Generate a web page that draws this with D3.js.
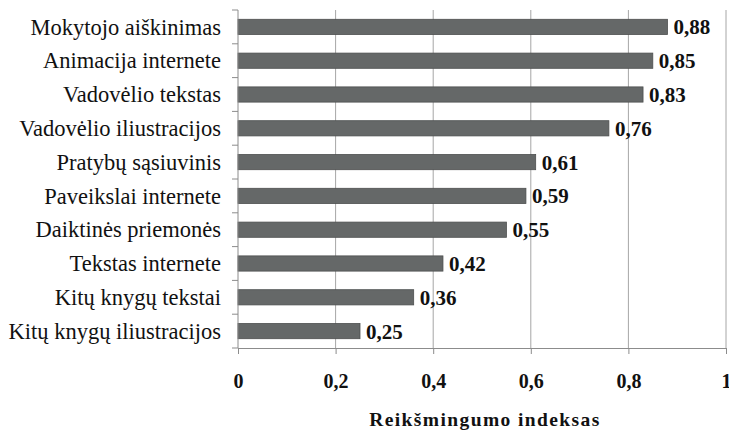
<!DOCTYPE html>
<html>
<head>
<meta charset="utf-8">
<script src="https://cdn.jsdelivr.net/npm/d3@7"></script>
<style>
  body { margin: 0; background: #fff; }
</style>
</head>
<body>
<svg id="chart" width="729" height="430"></svg>
<script>
const categories = [
  'Mokytojo aiškinimas',
  'Animacija internete',
  'Vadovėlio tekstas',
  'Vadovėlio iliustracijos',
  'Pratybų sąsiuvinis',
  'Paveikslai internete',
  'Daiktinės priemonės',
  'Tekstas internete',
  'Kitų knygų tekstai',
  'Kitų knygų iliustracijos'
];
const values = [0.88, 0.85, 0.83, 0.76, 0.61, 0.59, 0.55, 0.42, 0.36, 0.25];
const xTicks = [0, 0.2, 0.4, 0.6, 0.8, 1];
const axisTitle = 'Reikšmingumo indeksas';

const FONT = '"Liberation Serif", "Times New Roman", serif';

const svg = d3.select('#chart');
const margin = { top: 10, right: 3, bottom: 82, left: 238 };
const width = 729 - margin.left - margin.right;
const height = 430 - margin.top - margin.bottom;
const g = svg.append('g').attr('transform', `translate(${margin.left},${margin.top})`);

const fmt = v => d3.format('.2f')(v).replace('.', ',');
const fmtTick = v => (v === 0 || v === 1) ? String(v) : String(v).replace('.', ',');

const x = d3.scaleLinear().domain([0, 1]).range([0, width]);
const y = d3.scaleBand().domain(categories).range([0, height]).paddingInner(0.55).paddingOuter(0.275);
const yEdges = d3.scaleLinear().domain([0, categories.length]).range([0, height]);

// vertical gridlines
g.selectAll('.grid')
  .data(xTicks.filter(t => t > 0))
  .enter().append('line')
  .attr('x1', d => x(d)).attr('x2', d => x(d))
  .attr('y1', 0).attr('y2', height)
  .attr('stroke', '#a6a6a6').attr('stroke-width', 1);

// bars
g.selectAll('.bar')
  .data(values)
  .enter().append('rect')
  .attr('x', x(0))
  .attr('y', (d, i) => y(categories[i]))
  .attr('width', d => x(d) - x(0))
  .attr('height', y.bandwidth())
  .attr('fill', '#656868')
  .attr('stroke', '#4d4f4f')
  .attr('stroke-width', 0.8);

// value labels
g.selectAll('.value-label')
  .data(values)
  .enter().append('text')
  .attr('x', d => x(d) + 6)
  .attr('y', (d, i) => y(categories[i]) + y.bandwidth() / 2)
  .attr('dy', '.36em')
  .attr('font-family', FONT)
  .attr('font-size', 21)
  .attr('font-weight', 'bold')
  .attr('fill', '#111')
  .text(d => fmt(d));

// x axis
const xAxis = g.append('g').attr('transform', `translate(0,${height})`)
  .call(d3.axisBottom(x).tickValues(xTicks).tickSize(6).tickFormat(fmtTick));
xAxis.select('.domain').attr('stroke', '#8c8c8c');
xAxis.selectAll('.tick line').attr('stroke', '#8c8c8c');
xAxis.selectAll('text')
  .attr('font-size', 20).attr('font-weight', 'bold').attr('fill', '#111')
  .attr('font-family', FONT)
  .attr('y', 40).attr('dy', 0);

// y axis line with category boundary ticks
g.append('line')
  .attr('x1', 0).attr('x2', 0).attr('y1', 0).attr('y2', height)
  .attr('stroke', '#8c8c8c');
g.selectAll('.ytick')
  .data(d3.range(categories.length + 1))
  .enter().append('line')
  .attr('x1', -6).attr('x2', 0)
  .attr('y1', d => yEdges(d)).attr('y2', d => yEdges(d))
  .attr('stroke', '#8c8c8c');

// category labels
g.selectAll('.label')
  .data(categories)
  .enter().append('text')
  .attr('x', -17)
  .attr('y', d => y(d) + y.bandwidth() / 2)
  .attr('dy', '.34em')
  .attr('text-anchor', 'end')
  .attr('font-family', FONT)
  .attr('font-size', 22.5)
  .attr('fill', '#111')
  .text(d => d);

// axis title
svg.append('text')
  .attr('x', margin.left + width / 2 + 3)
  .attr('y', 426)
  .attr('text-anchor', 'middle')
  .attr('font-family', FONT)
  .attr('font-size', 19.5)
  .attr('font-weight', 'bold')
  .attr('letter-spacing', 1.4)
  .attr('fill', '#111')
  .text(axisTitle);
</script>
</body>
</html>
